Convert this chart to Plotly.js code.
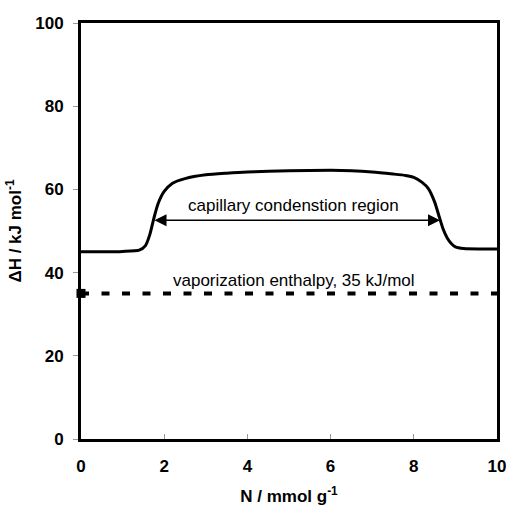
<!DOCTYPE html>
<html><head><meta charset="utf-8">
<script src="https://cdn.plot.ly/plotly-3.0.1.min.js"></script>
<style>html,body{margin:0;padding:0;background:#fff}</style>
</head><body><div id="chart" style="width:508px;height:506px"></div>
<script>
const N = [0, 0.5, 1.0, 1.4, 1.55, 1.65, 1.75, 1.85, 2.0, 2.2, 2.5, 3.0, 3.5, 4.0, 5.0, 6.0, 6.5, 7.0, 7.5, 7.8, 8.0, 8.2, 8.35, 8.5, 8.6, 8.7, 8.8, 8.9, 9.0, 9.2, 9.6, 10.1];
const H = [45.0, 45.0, 45.1, 45.4, 46.5, 49.0, 53.0, 56.5, 59.5, 61.5, 62.6, 63.5, 63.9, 64.2, 64.5, 64.6, 64.5, 64.2, 63.7, 63.35, 62.9, 61.7, 60.2, 57.0, 53.8, 50.6, 48.4, 47.0, 46.2, 45.8, 45.7, 45.7];
const vapN = [0, 10];
const vapH = [35, 35];
const markerN = [0];
const markerH = [35];
const xTicks = [0, 2, 4, 6, 8, 10];
const yTicks = [0, 20, 40, 60, 80, 100];
const regionStart = 1.73, regionEnd = 8.63, regionH = 52.6;

const font = "Arial, 'Liberation Sans', sans-serif";
const traces = [
  {x: N, y: H, mode: 'lines', line: {color: '#000', width: 3, shape: 'spline', smoothing: 0.6}, hoverinfo: 'skip'},
  {x: vapN, y: vapH, mode: 'lines', line: {color: '#000', width: 4, dash: '8px,12.5px'}},
  {x: markerN, y: markerH, mode: 'markers', marker: {symbol: 'square', size: 9, color: '#000'}, cliponaxis: false}
];
const layout = {
  width: 508, height: 506,
  margin: {l: 81, r: 11, t: 23, b: 67},
  showlegend: false,
  paper_bgcolor: '#fff', plot_bgcolor: '#fff',
  font: {family: font, color: '#000'},
  xaxis: {
    range: [0, 10], tickvals: xTicks, ticktext: xTicks.map(String),
    showgrid: false, zeroline: false,
    showline: true, linecolor: '#000', linewidth: 3, mirror: true,
    ticks: 'inside', ticklen: 5, tickcolor: '#999', tickwidth: 1,
    tickfont: {size: 17, family: font, weight: 'bold'},
    ticklabelstandoff: 10,
    title: {text: 'N / mmol g<sup>-1</sup>', font: {size: 17, family: font, weight: 'bold'}, standoff: 19}
  },
  yaxis: {
    range: [0, 100], tickvals: yTicks, ticktext: yTicks.map(String),
    showgrid: false, zeroline: false,
    showline: true, linecolor: '#000', linewidth: 3, mirror: true,
    ticks: 'outside', ticklen: 5, tickcolor: '#999', tickwidth: 1,
    tickfont: {size: 17, family: font, weight: 'bold'},
    ticklabelstandoff: 6,
    title: {text: 'ΔH / kJ mol<sup>-1</sup>', font: {size: 17, family: font, weight: 'bold'}, standoff: 10}
  },
  annotations: [
    {x: regionEnd, y: regionH, ax: regionStart, ay: regionH, xref: 'x', yref: 'y', axref: 'x', ayref: 'y',
     text: '', showarrow: true, arrowhead: 2, startarrowhead: 2, arrowside: 'end+start',
     arrowsize: 1.6, startarrowsize: 1.6, arrowwidth: 1.5, arrowcolor: '#000'},
    {x: 5.12, y: 56.2, xref: 'x', yref: 'y', text: 'capillary condenstion region', showarrow: false,
     font: {size: 17, family: font, color: '#000'}},
    {x: 5.11, y: 38.0, xref: 'x', yref: 'y', text: 'vaporization enthalpy, 35 kJ/mol', showarrow: false,
     font: {size: 17, family: font, color: '#000'}}
  ]
};
Plotly.newPlot('chart', traces, layout, {staticPlot: true, displayModeBar: false});
</script></body></html>
